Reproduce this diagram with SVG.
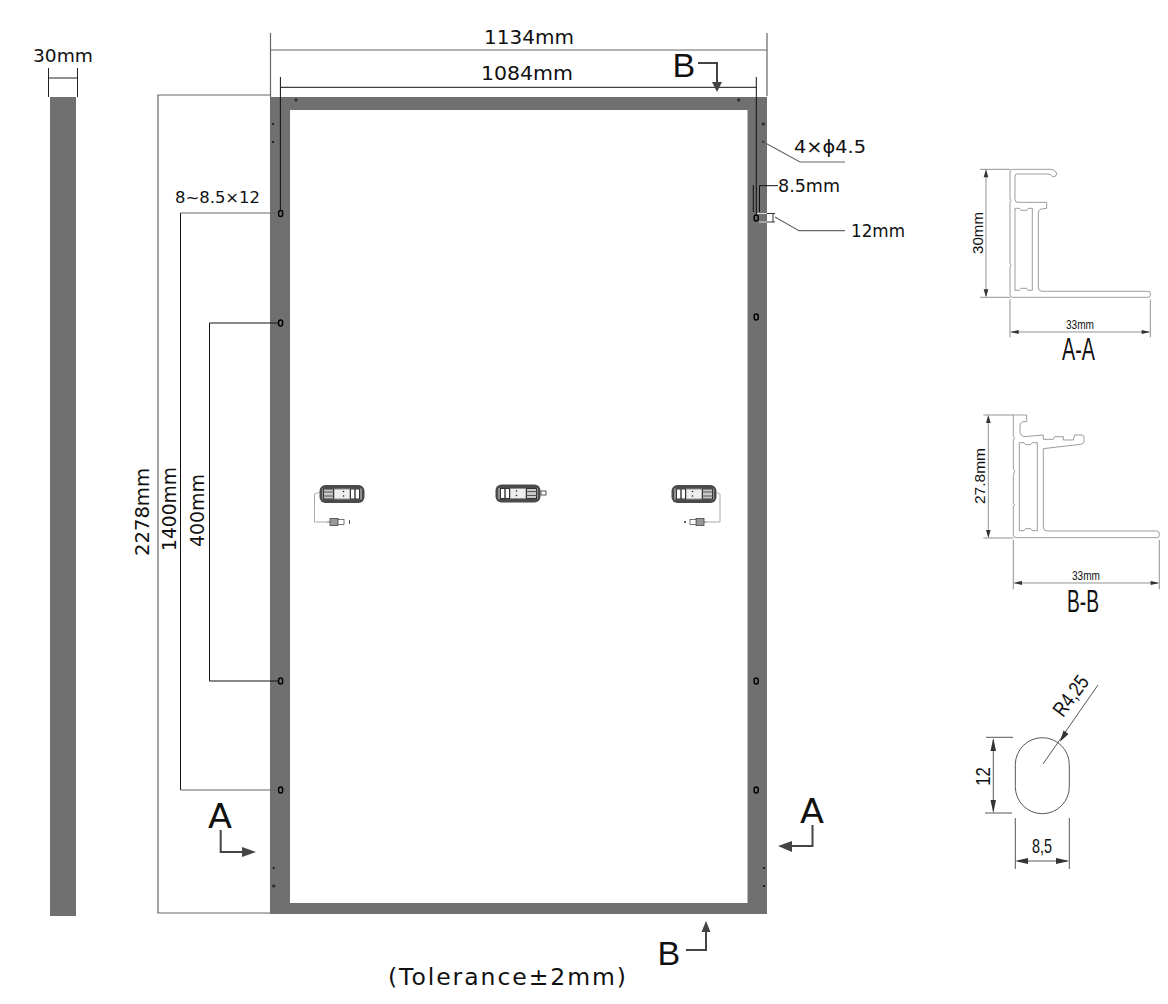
<svg xmlns="http://www.w3.org/2000/svg" width="1168" height="1004" viewBox="0 0 1168 1004">
<style>
text{font-family:"Liberation Sans",Arial,sans-serif;fill:#111}
.w{font-family:"DejaVu Sans","Liberation Sans",sans-serif}
.frame{fill:#707070}
.d{fill:none;stroke:#222;stroke-width:1}
.g{fill:none;stroke:#666;stroke-width:1.2}
.k{fill:none;stroke:#111;stroke-width:1}
.sec{fill:none;stroke:#444;stroke-width:.9}
.p{fill:none;stroke:#777;stroke-width:2.2}
.dim{fill:none;stroke:#777;stroke-width:2.4}
.head{fill:#333}
.ar{fill:none;stroke:#444;stroke-width:2}
.arh{fill:#444}
.hole{fill:none;stroke:#000;stroke-width:1.5}
.pin{fill:none;stroke:#000;stroke-width:.8}
.dot{fill:#111}
.cab{fill:none;stroke:#aaa;stroke-width:1}
</style>
<defs>
<g id="jb">
<rect x="0" y="0" width="45" height="18" rx="6" fill="#4a4a4a"/>
<rect x="2.5" y="3.5" width="40" height="11" fill="#8f8f8f"/>
<rect x="4" y="4" width="10" height="10" fill="#c8c8c8" stroke="#333" stroke-width="1"/>
<path d="M4 7h10M4 11h10" stroke="#555" stroke-width="1.2" fill="none"/>
<rect x="15" y="4.5" width="15" height="9" fill="#eee"/>
<rect x="31" y="4" width="9" height="10" fill="#fff" stroke="#333" stroke-width="1"/>
<path d="M35.5 4v10" stroke="#333" stroke-width="1.4"/>
<circle cx="24" cy="6.5" r=".8" fill="#222"/><circle cx="24" cy="11" r=".8" fill="#222"/>
</g>
<g id="mc">
<rect x="0" y="-.5" width="3" height="1" fill="#777"/>
<rect x="3" y="-3.5" width="8" height="7" fill="#999" stroke="#444" stroke-width=".8"/>
<rect x="11" y="-2.5" width="6" height="5" fill="#fff" stroke="#555" stroke-width=".8"/>
</g>
</defs>

<g id="side-view">
<rect class="frame" x="50" y="97" width="26" height="819"/>
</g>

<g id="module-frame">
<path class="frame" fill-rule="evenodd" d="M270 97H767V914H270ZM290 110V903H747.5V110Z"/>
<g id="holes">
<rect class="hole" x="278.6" y="210.5" width="4" height="6" rx="2"/>
<rect class="hole" x="278.6" y="320" width="4" height="6" rx="2"/>
<rect class="hole" x="278.6" y="678" width="4" height="6" rx="2"/>
<rect class="hole" x="278.6" y="787" width="4" height="6" rx="2"/>
<rect class="hole" x="754.2" y="215" width="4" height="6" rx="2"/>
<rect class="hole" x="754.2" y="314" width="4" height="6" rx="2"/>
<rect class="hole" x="754.2" y="678" width="4" height="6" rx="2"/>
<rect class="hole" x="754.2" y="787" width="4" height="6" rx="2"/>
<circle class="pin" cx="296" cy="100" r="1.1"/><circle class="pin" cx="738.7" cy="100" r="1.1"/>
<circle class="pin" cx="763.3" cy="124" r="1.1"/><circle class="dot" cx="763.3" cy="142" r="1.1"/>
<circle class="dot" cx="273" cy="124" r="1.1"/><circle class="dot" cx="273" cy="142" r="1.1"/>
<circle class="dot" cx="273.7" cy="868" r="1.1"/><circle class="pin" cx="273.7" cy="886" r="1.1"/>
<circle class="dot" cx="764" cy="868" r="1.1"/><circle class="dot" cx="764" cy="886" r="1.1"/>
</g>
</g>

<g id="junction-box-left">
<use href="#jb" x="319.5" y="485"/>
<path class="cab" d="M320 492L314.5 494V522H327"/>
<use href="#mc" x="327" y="522"/>
<rect x="349" y="520" width="1" height="4" fill="#555"/>
</g>
<g id="junction-box-middle">
<use href="#jb" transform="translate(540.5 484.5) scale(-1 1)"/>
<rect x="541" y="491" width="5" height="4" fill="#fff" stroke="#555"/>
</g>
<g id="junction-box-right">
<use href="#jb" transform="translate(716.5 485) scale(-1 1)"/>
<path class="cab" d="M716 492L720 494V522H707"/>
<use href="#mc" transform="translate(707 522) scale(-1 1)"/>
<circle cx="685" cy="522" r="1" fill="#333"/>
</g>

<g id="connectors">
<path class="d" d="M48.5 68V97M77.5 68V97M48.5 78H77.5"/>
<path class="g" d="M270.5 33V97M767 33V96M270.5 50H767"/>
<path class="k" d="M281 87.3H756.3M280.4 77V210M756.3 77V214"/>
<path class="g" d="M270 95H158V913H270"/>
<path class="k" d="M180.5 213V790"/><path class="g" d="M180.5 213H278M180.5 790H278"/>
<path class="k" d="M209.5 323V681M209.5 323H278M209.5 681H278"/>
<path class="g" d="M763.5 142L800 162H845"/>
<path class="k" d="M778 185.7H759.5V212M753.3 185V212"/>
<path class="g" d="M775 217L799 230.7H845"/>
<path d="M757 213.5H767M759 222H767" fill="none" stroke="#ddd" stroke-width="1"/>
<path d="M767 213.5H775M767 222H775M773 213.5V222" fill="none" stroke="#333" stroke-width="1"/>
<path class="ar" d="M698 63H717V83"/><path class="arh" d="M712 82H722L717 92Z"/>
<path class="ar" d="M220.7 830V852H243"/><path class="arh" d="M242 847L256 852L242 857Z"/>
<path class="ar" d="M812.5 825V846H790"/><path class="arh" d="M778 846L792 841V852Z"/>
<path class="ar" d="M686 950H706V931"/><path class="arh" d="M706 921L701.5 932H710.5Z"/>
</g>

<g id="labels">
<text class="w" x="33" y="62" font-size="18.5" textLength="60" lengthAdjust="spacingAndGlyphs">30mm</text>
<text class="w" x="484" y="44" font-size="20" textLength="90" lengthAdjust="spacingAndGlyphs">1134mm</text>
<text class="w" x="481" y="80" font-size="20" textLength="92" lengthAdjust="spacingAndGlyphs">1084mm</text>
<text x="672.5" y="77" font-size="34">B</text>
<text class="w" x="175" y="203" font-size="16.5" textLength="85" lengthAdjust="spacingAndGlyphs">8~8.5×12</text>
<text class="w" x="794" y="153" font-size="18" textLength="72" lengthAdjust="spacingAndGlyphs">4×ϕ4.5</text>
<text class="w" x="778" y="192" font-size="17.5" textLength="62" lengthAdjust="spacingAndGlyphs">8.5mm</text>
<text class="w" x="851" y="237" font-size="17" textLength="54" lengthAdjust="spacingAndGlyphs">12mm</text>
<text class="w" transform="translate(149 556) rotate(-90)" font-size="20" textLength="88" lengthAdjust="spacingAndGlyphs">2278mm</text>
<text class="w" transform="translate(176 551) rotate(-90)" font-size="20" textLength="84" lengthAdjust="spacingAndGlyphs">1400mm</text>
<text class="w" transform="translate(204 547) rotate(-90)" font-size="20" textLength="73" lengthAdjust="spacingAndGlyphs">400mm</text>
<text class="w" x="208" y="828" font-size="34" textLength="24" lengthAdjust="spacingAndGlyphs">A</text>
<text class="w" x="800" y="823" font-size="34" textLength="24" lengthAdjust="spacingAndGlyphs">A</text>
<text x="657.5" y="965" font-size="34">B</text>
<text class="w" x="388" y="985" font-size="23.5" textLength="238" lengthAdjust="spacing">(Tolerance±2mm)</text>
</g>

<g id="section-a-a">
<g transform="translate(960 150) scale(.3333)">
<path class="p" d="M150 66Q150 58 158 58H272Q288 60 290 72Q288 82 278 80Q272 72 262 72H172Q165 72 165 80V148Q165 157 174 157H260V175L240 178Q235 182 235 190V412Q235 424 247 424H564Q571 424 571 431V436Q571 442 564 442H158Q150 442 150 434V350L153 345L150 340V156L153 151L150 146Z"/>
<path class="p" d="M165 175H178L183 181H200L205 175H217V421H205L200 415H183L178 421H165Z"/>
<path class="dim" d="M60 58H150M60 442H150M78 62V438M150 448V562M571 448V562M154 546H567"/>
<path class="head" d="M78 58L71 82H85ZM78 442L71 418H85ZM150 546L176 540V552ZM571 546L545 540V552Z"/>
</g>
<text transform="translate(983 254) rotate(-90)" font-size="14" textLength="42" lengthAdjust="spacingAndGlyphs">30mm</text>
<text x="1066" y="329" font-size="13" textLength="28" lengthAdjust="spacingAndGlyphs">33mm</text>
<text x="1062" y="360" font-size="32" textLength="33" lengthAdjust="spacingAndGlyphs">A-A</text>
</g>

<g id="section-b-b">
<g transform="translate(960 400) scale(.3333)">
<path class="p" d="M160 45H200V65H188Q180 68 180 78V98Q182 108 192 110L250 105V118H280L284 110H310V120H340L344 105H366Q372 106 372 112V126Q370 132 362 133L250 146V382Q250 393 262 393H590Q598 394 598 402V406Q598 413 590 413H170Q160 413 160 404V318L164 314L160 310V226L164 212L160 208V120L164 114L160 110Z"/>
<path class="p" d="M178 128H192L197 134H212L217 128H232V392H217L212 386H197L192 392H178Z"/>
<path class="dim" d="M70 45H160M70 414H160M85 50V410M160 420V568M598 420V568M164 549H594"/>
<path class="head" d="M85 45L78 69H92ZM85 414L78 390H92ZM160 549L186 543V555ZM598 549L572 543V555Z"/>
</g>
<text transform="translate(985 504) rotate(-90)" font-size="14" textLength="56" lengthAdjust="spacingAndGlyphs">27.8mm</text>
<text x="1072" y="580" font-size="13" textLength="28" lengthAdjust="spacingAndGlyphs">33mm</text>
<text x="1067" y="612" font-size="32" textLength="32" lengthAdjust="spacingAndGlyphs">B-B</text>
</g>

<g id="slot-detail">
<rect class="sec" x="1015.3" y="737.7" width="54" height="76" rx="27" ry="27"/>
<path class="sec" d="M986 737.3H1013M985 813H1012M993.3 740V811M1015.3 818V869M1069.3 818V869M1018 861H1067M1043 764L1098 685"/>
<path class="head" d="M993.3 738L990.5 751H996ZM993.3 813L990.5 800H996ZM1015.3 861L1028 858V864ZM1069.3 861L1056 858V864ZM1060 741.7L1068.5 734L1063.5 730.6Z"/>
<text transform="translate(990 776.5) rotate(-90) scale(.8 1)" font-size="21" text-anchor="middle">12</text>
<text x="1032" y="853" font-size="21" textLength="20" lengthAdjust="spacingAndGlyphs">8,5</text>
<text transform="translate(1076.5 700) rotate(-53) scale(.8 1)" font-size="21" text-anchor="middle">R4,25</text>
</g>
</svg>
